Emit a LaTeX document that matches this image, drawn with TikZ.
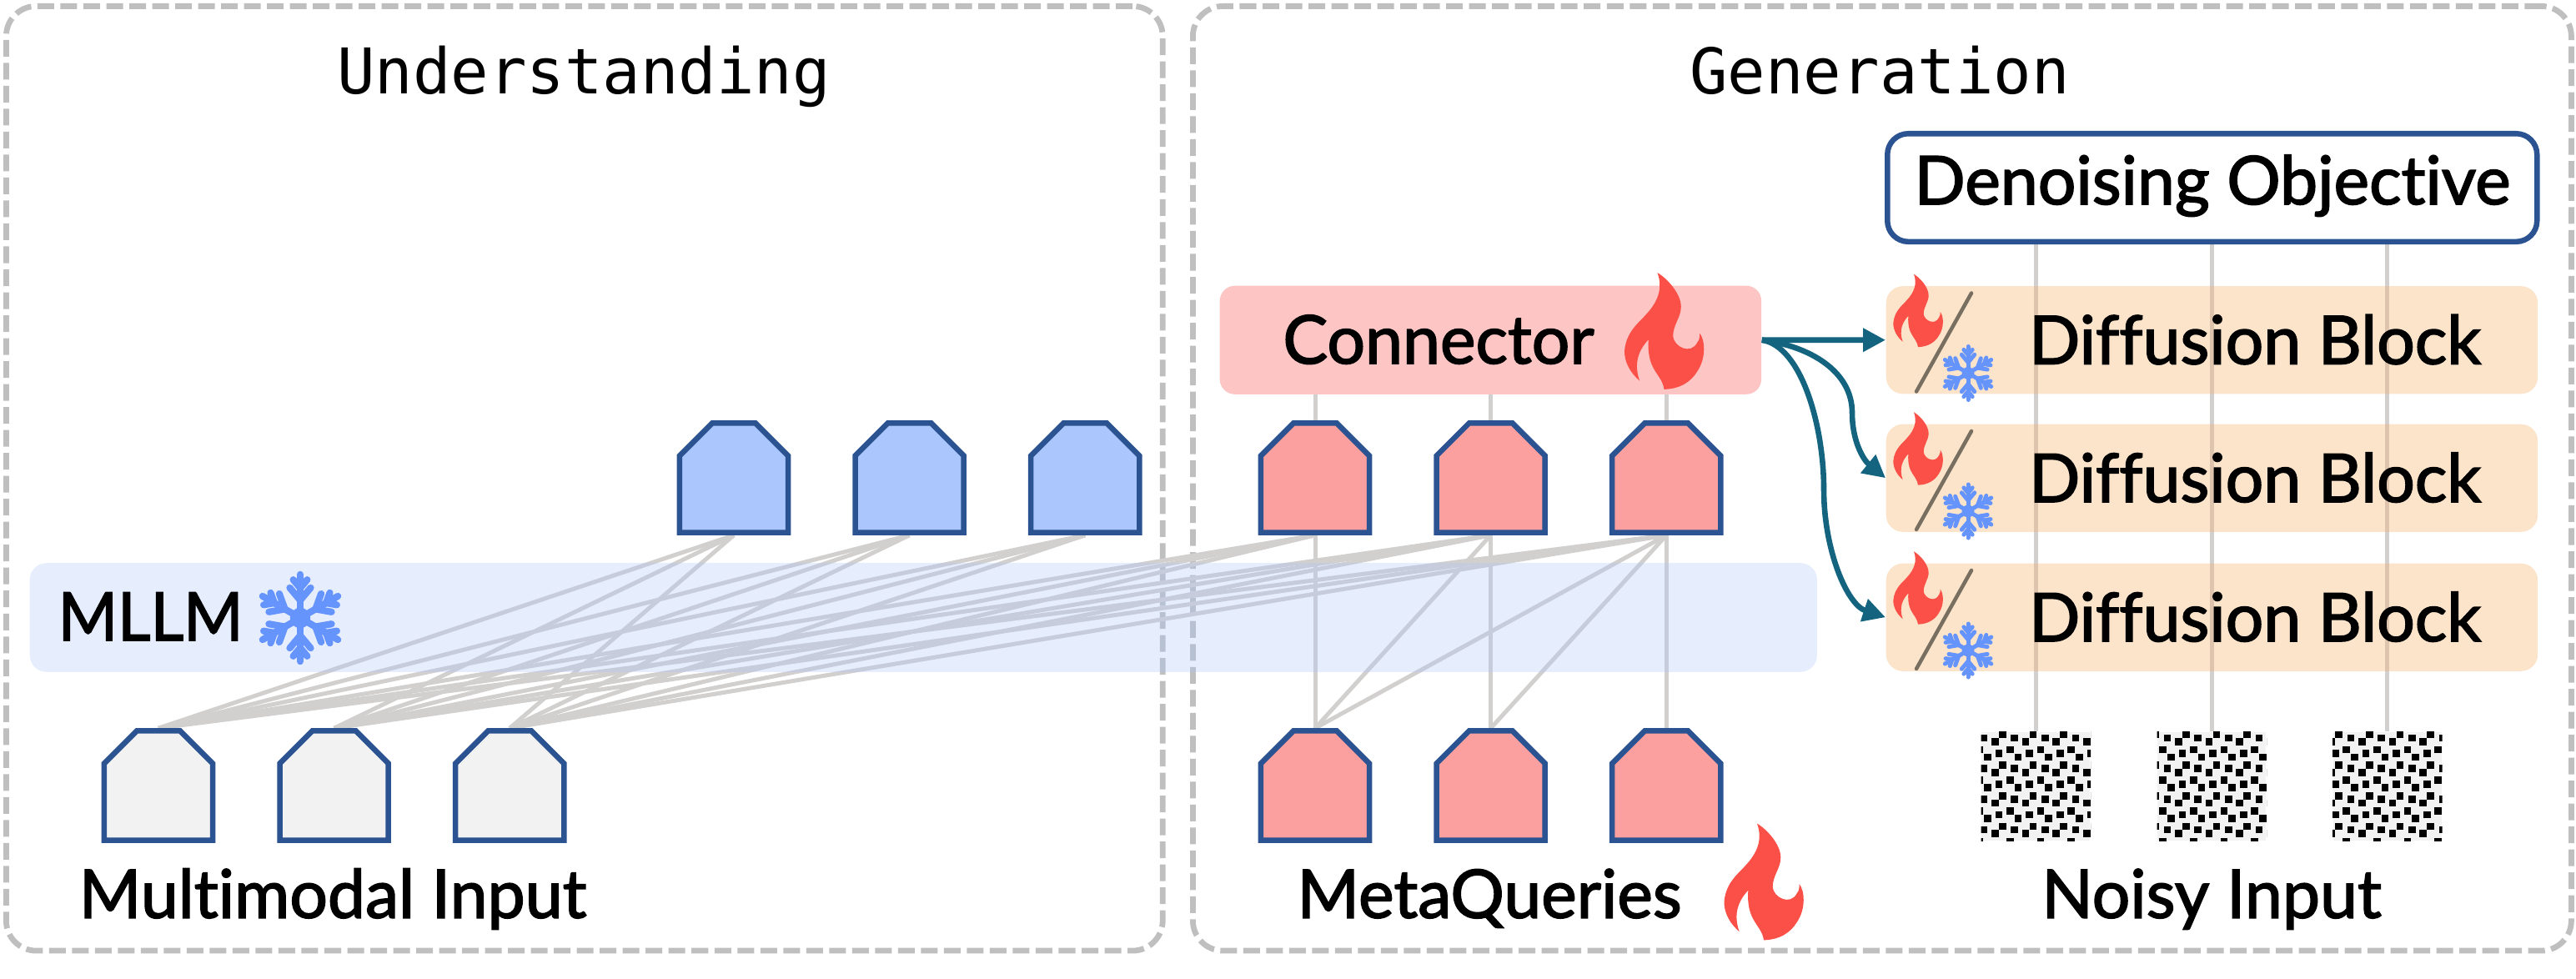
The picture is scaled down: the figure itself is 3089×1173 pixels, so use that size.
\documentclass[tikz,border=0pt]{standalone}
\usepackage{fontspec}
\setmainfont{Lato}[FakeBold=2,Ligatures={NoCommon,NoRequired}]
\setmonofont{DejaVu Sans Mono}
\usepackage{tikz}
\usepackage{graphicx}
\usetikzlibrary{positioning,arrows.meta,backgrounds,calc}
\definecolor{framegray}{HTML}{BFBFBF}
\definecolor{linegray}{HTML}{D2CFCF}
\definecolor{boxblue}{HTML}{2C5391}
\definecolor{redfill}{HTML}{FB9F9F}
\definecolor{bluefill}{HTML}{ABC6FC}
\definecolor{grayfill}{HTML}{F2F2F2}
\definecolor{connfill}{HTML}{FDC5C4}
\definecolor{blockfill}{HTML}{F6B26B}
\definecolor{flamered}{HTML}{FA5047}
\definecolor{snowblue}{HTML}{6594FD}
\definecolor{slashgray}{HTML}{786F60}
\definecolor{arrowteal}{HTML}{146480}
\makeatletter
\pgfdeclareshape{tokbox}{
  \inheritsavedanchors[from=rectangle]
  \inheritanchorborder[from=rectangle]
  \inheritanchor[from=rectangle]{center}
  \inheritanchor[from=rectangle]{north}
  \inheritanchor[from=rectangle]{south}
  \inheritanchor[from=rectangle]{east}
  \inheritanchor[from=rectangle]{west}
  \backgroundpath{
    \pgfmathsetlength\pgf@xc{\pgfkeysvalueof{/pgf/outer xsep}}
    \southwest \advance\pgf@x by \pgf@xc \advance\pgf@y by \pgf@xc
    \edef\tokl{\the\pgf@x}\edef\tokb{\the\pgf@y}
    \northeast \advance\pgf@x by -\pgf@xc \advance\pgf@y by -\pgf@xc
    \edef\tokr{\the\pgf@x}\edef\tokt{\the\pgf@y}
    \pgfpathmoveto{\pgfpoint{\tokl}{\tokb}}
    \pgfpathlineto{\pgfpoint{\tokr}{\tokb}}
    \pgfpathlineto{\pgfpoint{\tokr}{\tokt-0.39cm}}
    \pgfpathlineto{\pgfpoint{\tokr-0.39cm}{\tokt}}
    \pgfpathlineto{\pgfpoint{\tokl+0.39cm}{\tokt}}
    \pgfpathlineto{\pgfpoint{\tokl}{\tokt-0.39cm}}
    \pgfpathclose
  }
}
\makeatother
\tikzstyle{frame}=[%
      rectangle, draw=framegray, line width=0.068cm, dash pattern=on 0.2cm off 0.075cm, rounded corners=0.36cm,
      inner sep=0pt, anchor=north west
]
\tikzstyle{tok}=[%
      shape=tokbox, draw=boxblue, line width=0.065cm, minimum width=1.3cm, minimum height=1.31cm, inner sep=0pt
]
\tikzstyle{band}=[%
      rectangle, rounded corners=0.2cm, inner sep=0pt, anchor=north west
]
\tikzstyle{lbl}=[font=\fontsize{22.9}{26}\selectfont, inner sep=0pt, anchor=base]
\tikzstyle{ttl}=[font=\ttfamily\fontsize{21.5}{24}\selectfont, inner sep=0pt, anchor=base]
\tikzstyle{net}=[draw=linegray, line width=0.05cm]
\tikzstyle{flow}=[draw=arrowteal, line width=0.066cm, -{Triangle[length=0.27cm,width=0.27cm]}]
\tikzstyle{noise}=[rectangle, fill=grayfill, minimum size=1.3cm, inner sep=0pt, anchor=north west]
\tikzset{
  flame/.pic={
    \fill[flamered, scale=0.3333] (-15,-131) .. controls (5,-120) and (38,-85) .. (38,-55)
      .. controls (38,-30) and (20,-15) .. (20,12)
      .. controls (22,35) and (60,55) .. (75,25) .. controls (80,20) and (80,10) .. (80,5)
      .. controls (92,20) and (95,60) .. (75,90) .. controls (60,115) and (35,130) .. (0,131)
      .. controls (-5,95) and (-40,90) .. (-35,19)
      .. controls (-55,40) and (-70,70) .. (-55,112)
      .. controls (-75,95) and (-90,70) .. (-89,44)
      .. controls (-85,0) and (-55,-20) .. (-40,-38)
      .. controls (-15,-65) and (-2,-95) .. (-15,-131) -- cycle;
  },
  pics/snow/.style={code={
    \begin{scope}[scale=#1, draw=snowblue, line width=#1*0.05cm, line cap=round]
      \fill[snowblue] (0,0) circle (7.5);
      \foreach \a in {30,90,...,330} {
        \begin{scope}[rotate=\a]
          \draw (0,0) -- (32,0);
          \draw (13,0) -- ++(40:12) (13,0) -- ++(-40:12);
          \draw (22,0) -- ++(40:8) (22,0) -- ++(-40:8);
        \end{scope}
      }
    \end{scope}
  }}
}
\begin{document}
\begin{tikzpicture}[x=0.01cm, y=-0.01cm, node distance=0.74cm]
  \useasboundingbox (0,0) rectangle (3089,1173);

  % top row and inputs
  \node[tok, fill=bluefill] (up1) at (880,573) {};
  \node[tok, fill=bluefill] (up2) [right = of up1] {};
  \node[tok, fill=bluefill] (up3) [right = of up2] {};
  \node[tok, fill=redfill]  (mid1) at (1577,573) {};
  \node[tok, fill=redfill]  (mid2) [right = of mid1] {};
  \node[tok, fill=redfill]  (mid3) [right = of mid2] {};
  \node[tok, fill=grayfill] (in1) at (190,942) {};
  \node[tok, fill=grayfill] (in2) [right = of in1] {};
  \node[tok, fill=grayfill] (in3) [right = of in2] {};
  \node[tok, fill=redfill]  (mq1) at (1577,942) {};
  \node[tok, fill=redfill]  (mq2) [right = of mq1] {};
  \node[tok, fill=redfill]  (mq3) [right = of mq2] {};

  \node[band, fill=bluefill, opacity=0.3, minimum width=21.42cm, minimum height=1.305cm] (mllm) at (35,674.5) {};
  \node[lbl, anchor=base west] (mllmlbl) at (69,768) {\scalebox{0.955}[1]{MLLM}};
  \pic at (360,741) {snow=1.63};

  \node[rectangle, fill=connfill, rounded corners=0.18cm, minimum width=6.49cm, minimum height=1.3cm, inner sep=0pt, anchor=north west] (conn) at (1462,342) {};
  \node[lbl] (connlbl) at (1725,436) {Connector};
  \pic[scale=1.6] at (1995.5,397) {flame};

  \node[rectangle, draw=boxblue, fill=white, line width=0.065cm, rounded corners=0.25cm, minimum width=7.785cm, minimum height=1.295cm, inner sep=0pt, anchor=north west] (obj) at (2260,157) {};
  \node[lbl] (objlbl) at (2653,245) {Denoising Objective};

  \foreach \n/\y in {1/342.5,2/508,3/675} {
    \node[band, fill=blockfill, opacity=0.35, minimum width=7.81cm, minimum height=1.29cm] (block\n) at (2261,\y) {};
    \node[lbl] (blocklbl\n) at ($(2704,\y)+(0,94)$) {Diffusion Block};
    \pic at ($(2300,\y)+(0,30)$) {flame};
    \draw[draw=slashgray, line width=0.045cm, line cap=round] ($(2364,\y)+(0,9)$) -- ($(2298,\y)+(0,127)$);
    \pic at ($(2360,\y)+(0,105)$) {snow=1};
  }

  % noise patches
  \foreach \n/\x/\s/\e in {1/2375.5/-1/3,2/2586.5/5/9,3/2797/11/15} {
    \node[noise] (noise\n) at (\x,877) {};
    \begin{scope}
      \clip (noise\n.north west) rectangle (noise\n.south east);
      \foreach \i in {\s,...,\e} \foreach \j in {0,...,3}
        \foreach \tx/\ty in {26.3/4,40.7/8,17.3/12.7,35.3/22,22/26.7,8.3/31} {
          \fill[black] ($(2370.6,872.6)+(\i*36.67,\j*36.67)+(\tx,\ty)$) rectangle ++(8.7,8.7);
        }
    \end{scope}
  }

  \node[lbl] (inlbl) at (399,1100.7) {Multimodal Input};
  \node[lbl] (mqlbl) at (1786,1100.7) {MetaQueries};
  \pic[scale=1.6] at (2115,1057.5) {flame};
  \node[lbl] (noisylbl) at (2652,1100.7) {Noisy Input};

  \node[ttl] (ttlun) at (700,113) {Understanding};
  \node[ttl] (ttlgen) at (2254,113) {Generation};

  \draw[flow] (conn.east) -- (block1.west);
  \draw[flow] (conn.east) .. controls (2170,415) and (2221,445) .. (2221,495) .. controls (2221,530) and (2235,552) .. (block2.west);
  \draw[flow] (conn.east) .. controls (2160,415) and (2187,510) .. (2187,587) .. controls (2187,660) and (2215,725) .. (block3.west);

  \begin{scope}[on background layer]
    \node[frame, minimum width=13.86cm, minimum height=11.32cm] (left) at (4,4) {};
    \node[frame, minimum width=16.52cm, minimum height=11.32cm] (right) at (1427,4) {};
    \foreach \a in {in1,in2,in3}
      \foreach \b in {up1,up2,up3,mid1,mid2,mid3}
        \draw[net] (\a.north) -- (\b.south);
    \foreach \a/\b in {mq1/mid1,mq1/mid2,mq1/mid3,mq2/mid2,mq2/mid3,mq3/mid3}
      \draw[net] (\a.north) -- (\b.south);
    \foreach \b in {mid1,mid2,mid3}
      \draw[net] (\b.north) -- (\b.north |- conn.south);
    \foreach \n in {1,2,3}
      \draw[net] (noise\n.north) -- (noise\n.north |- obj.south);
  \end{scope}
\end{tikzpicture}
\end{document}
